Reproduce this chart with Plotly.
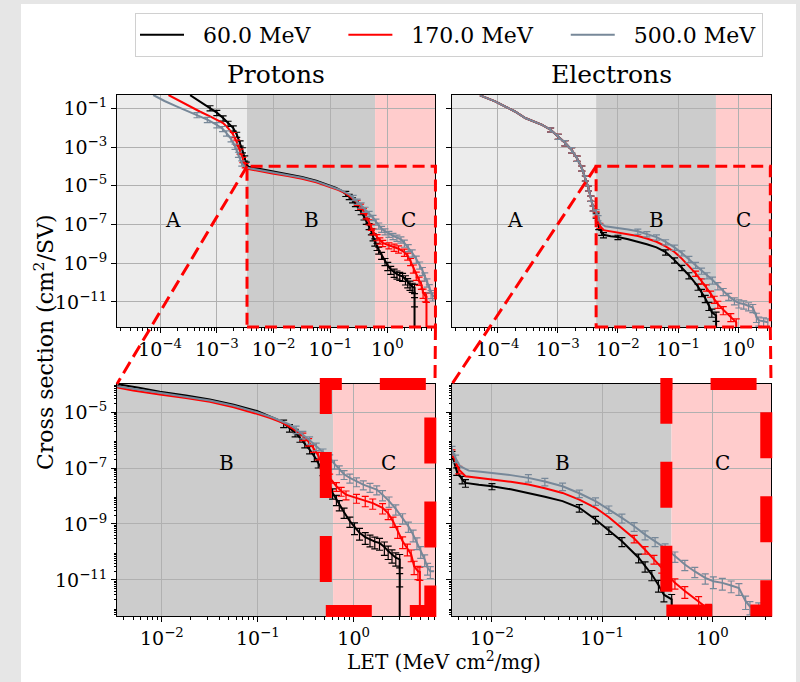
import math
import plotly.graph_objects as go

FONT = "DejaVu Serif"
W, H = 800, 682

energies = ["60.0 MeV", "170.0 MeV", "500.0 MeV"]
colors = ["black", "red", "#778899"]

# ---------------- Protons ----------------
p60_let = [3.39e-4, 5.0e-4, 7.6e-4, 1.0e-3, 1.29e-3, 1.58e-3, 1.95e-3, 2.24e-3, 2.57e-3, 2.82e-3,
           3.1e-3, 3.3e-3, 3.6e-3, 4.5e-3, 5.75e-3, 9.5e-3, 1.78e-2, 3.16e-2, 5.62e-2, 9.8e-2,
           0.126, 0.158, 0.186, 0.214, 0.245, 0.275, 0.309, 0.347, 0.389, 0.427,
           0.479, 0.525, 0.562, 0.603, 0.661, 0.708, 0.794, 0.912, 1.02, 1.15,
           1.32, 1.48, 1.66, 1.86, 2.09, 2.29, 2.51, 2.75, 3.02, 3.02, 3.02]
p60_xs = [0.48, 0.22, 0.105, 6.0e-2, 3.16e-2, 1.66e-2, 9.5e-3, 4.5e-3, 1.62e-3, 7.1e-4,
          2.7e-4, 1.3e-4, 9.8e-5, 8.7e-5, 7.5e-5, 5.4e-5, 3.98e-5, 2.82e-5, 1.86e-5, 1.10e-5,
          7.9e-6, 5.5e-6, 4.0e-6, 2.75e-6, 1.86e-6, 1.20e-6, 7.6e-7, 4.57e-7, 2.63e-7, 1.55e-7,
          8.3e-8, 4.47e-8, 2.4e-8, 1.29e-8, 7.6e-9, 4.9e-9, 2.63e-9, 1.26e-9, 7.6e-10, 4.8e-10,
          3.4e-10, 2.75e-10, 2.34e-10, 2.09e-10, 1.51e-10, 1.07e-10, 7.9e-11, 6.2e-11, 5.4e-11, 1.12e-11, 1e-15]
p60_err = [0, 0, 0.3, 0.3, 0.3, 0.3, 0.3, 0.3, 0.3, 0.3, 0.3, 0.3, 0,
           0, 0, 0, 0, 0, 0, 0, 0, 0,
           0.3, 0.3, 0.3, 0.3, 0.3, 0.3, 0.35, 0.35,
           0.35, 0.35, 0.4, 0.4, 0.4, 0.4, 0.4, 0.4, 0.45, 0.45,
           0.45, 0.45, 0.45, 0.45, 0.5, 0.5, 0.5, 0.5, 0.5, 0.5, 0]

p170_let = [1.41e-4, 2.19e-4, 3.39e-4, 5.0e-4, 7.6e-4, 1.0e-3, 1.29e-3, 1.58e-3, 1.95e-3, 2.24e-3,
            2.57e-3, 2.88e-3, 3.16e-3, 3.47e-3, 5.0e-3, 9.5e-3, 1.78e-2, 3.16e-2, 5.62e-2, 9.8e-2,
            0.135, 0.182, 0.234, 0.295, 0.339, 0.380, 0.427, 0.479, 0.525, 0.562,
            0.661, 0.741, 0.832, 1.07, 1.32, 1.58, 2.0, 2.29, 2.57, 2.88,
            3.24, 3.63, 3.98, 4.27, 4.68, 4.9, 4.9]
p170_xs = [0.49, 0.24, 0.126, 6.9e-2, 3.9e-2, 2.63e-2, 1.74e-2, 9.5e-3, 4.37e-3, 1.78e-3,
           6.0e-4, 2.24e-4, 1.12e-4, 7.6e-5, 6.0e-5, 4.27e-5, 3.24e-5, 2.34e-5, 1.51e-5, 8.7e-6,
           6.2e-6, 4.17e-6, 2.51e-6, 1.38e-6, 8.7e-7, 5.25e-7, 2.82e-7, 1.35e-7, 7.6e-8, 4.47e-8,
           2.24e-8, 1.51e-8, 1.12e-8, 8.5e-9, 6.9e-9, 5.6e-9, 3.8e-9, 2.4e-9, 1.26e-9, 5.6e-10,
           2.4e-10, 1.32e-10, 8.1e-11, 3.09e-11, 2.04e-11, 1.91e-11, 1e-15]
p170_err = [0, 0, 0, 0, 0, 0, 0, 0, 0.3, 0.3, 0.3, 0.3, 0.25, 0,
            0, 0, 0, 0, 0, 0,
            0, 0, 0, 0.3, 0.3, 0.3, 0.3, 0.3, 0.35, 0.35,
            0.35, 0.35, 0.35, 0.35, 0.4, 0.4, 0.4, 0.4, 0.4, 0.45,
            0.45, 0.45, 0.45, 0.5, 0.5, 0.5, 0]

p500_let = [7.6e-5, 1.20e-4, 1.95e-4, 2.95e-4, 4.47e-4, 6.8e-4, 1.0e-3, 1.26e-3, 1.48e-3, 1.78e-3,
            2.09e-3, 2.40e-3, 2.75e-3, 3.16e-3, 3.39e-3, 5.62e-3, 9.5e-3, 1.78e-2, 3.16e-2, 5.62e-2,
            9.8e-2, 0.145, 0.214, 0.251, 0.295, 0.347, 0.407, 0.479, 0.562, 0.631,
            0.708, 0.794, 0.912, 1.07, 1.26, 1.48, 1.74, 2.0, 2.34, 2.75,
            3.24, 3.72, 4.17, 4.57, 5.0, 5.5, 5.9, 6.3, 6.9]
p500_xs = [0.49, 0.24, 0.126, 7.6e-2, 4.68e-2, 2.63e-2, 1.41e-2, 8.9e-3, 5.25e-3, 2.63e-3,
           1.10e-3, 4.17e-4, 1.48e-4, 9.5e-5, 8.5e-5, 6.5e-5, 4.9e-5, 3.7e-5, 2.63e-5, 1.70e-5,
           1.0e-5, 6.3e-6, 3.63e-6, 2.45e-6, 1.58e-6, 1.0e-6, 6.0e-7, 3.7e-7, 2.29e-7, 1.41e-7,
           8.9e-8, 6.0e-8, 4.47e-8, 3.31e-8, 2.57e-8, 2.09e-8, 1.70e-8, 1.12e-8, 6.6e-9, 3.47e-9,
           1.66e-9, 8.3e-10, 4.17e-10, 2.19e-10, 1.07e-10, 5.4e-11, 2.7e-11, 2.04e-11, 2.04e-11]
p500_err = [0, 0, 0, 0, 0.3, 0.3, 0.3, 0.3, 0.3, 0.3, 0.3, 0.3, 0.3, 0, 0,
            0, 0, 0, 0, 0, 0,
            0, 0, 0.3, 0.3, 0.3, 0.3, 0.3, 0.3, 0.35,
            0.35, 0.35, 0.35, 0.35, 0.35, 0.35, 0.35, 0.4, 0.4, 0.4,
            0.4, 0.4, 0.45, 0.45, 0.45, 0.45, 0.45, 0.45, 0]

# ---------------- Electrons ----------------
# low-LET part (region A), common to the three energies
eA_let = [5.1e-5, 6.8e-5, 9.1e-5, 1.32e-4, 1.95e-4, 2.88e-4, 3.98e-4, 5.5e-4, 7.6e-4, 1.02e-3,
          1.32e-3, 1.70e-3, 2.09e-3, 2.51e-3, 2.88e-3, 3.24e-3, 3.55e-3, 3.89e-3]
eA_xs = [0.47, 0.33, 0.229, 0.126, 6.9e-2, 3.16e-2, 2.09e-2, 1.41e-2, 7.9e-3, 3.55e-3,
         1.66e-3, 7.2e-4, 2.63e-4, 8.1e-5, 2.51e-5, 7.6e-6, 2.24e-6, 7.1e-7]
eA_err = [0, 0, 0, 0, 0, 0, 0, 0, 0.25, 0.3, 0.3, 0.3, 0.3, 0.3, 0.3, 0.3, 0.3, 0.3]

e60_let_B = [4.34e-3, 4.79e-3, 5.37e-3, 5.75e-3, 7.6e-3, 1.0e-2, 1.48e-2, 2.14e-2, 3.02e-2, 4.37e-2,
             6.2e-2, 8.7e-2, 0.115, 0.151, 0.214, 0.245, 0.282, 0.324, 0.363, 0.427, 0.427]
e60_xs_B = [3.02e-7, 7.8e-8, 3.9e-8, 2.95e-8, 2.51e-8, 2.24e-8, 1.74e-8, 1.29e-8, 9.5e-9, 6.6e-9,
            3.8e-9, 1.45e-9, 6.0e-10, 2.4e-10, 6.2e-11, 3.16e-11, 1.55e-11, 6.6e-12, 2.95e-12, 2.0e-12, 1e-15]
e60_err_B = [0.3, 0.3, 0.3, 0.3, 0, 0.25, 0, 0, 0, 0,
             0.3, 0.3, 0.3, 0.35, 0.35, 0.4, 0.4, 0.45, 0.45, 0.5, 0]

e170_let_B = [4.34e-3, 5.0e-3, 5.75e-3, 7.6e-3, 1.0e-2, 1.48e-2, 2.14e-2, 3.02e-2, 4.37e-2, 6.2e-2,
              8.7e-2, 0.115, 0.151, 0.195, 0.245, 0.295, 0.347, 0.398, 0.457, 0.562, 0.75, 0.923, 0.923]
e170_xs_B = [3.47e-7, 8.9e-8, 5.1e-8, 4.37e-8, 3.9e-8, 3.24e-8, 2.57e-8, 1.91e-8, 1.29e-8, 7.4e-9,
             3.8e-9, 1.74e-9, 7.2e-10, 3.02e-10, 1.20e-10, 5.6e-11, 2.7e-11, 1.41e-11, 7.8e-12, 3.98e-12,
             1.74e-12, 8.9e-13, 1e-15]
e170_err_B = [0.3, 0.3, 0, 0, 0, 0, 0, 0, 0, 0,
              0, 0, 0, 0.3, 0.3, 0.35, 0.35, 0.4, 0.4, 0.45, 0.45, 0.5, 0]

e500_let_B = [4.34e-3, 4.68e-3, 5.13e-3, 6.17e-3, 7.9e-3, 1.0e-2, 1.48e-2, 2.14e-2, 3.02e-2, 4.37e-2,
              6.2e-2, 8.7e-2, 0.115, 0.151, 0.195, 0.245, 0.302, 0.372, 0.457, 0.562,
              0.692, 0.861, 1.02, 1.23, 1.48, 1.74, 2.0, 2.19, 2.63, 3.09]
e500_xs_B = [4.57e-7, 2.24e-7, 1.17e-7, 8.1e-8, 7.4e-8, 6.8e-8, 5.6e-8, 4.47e-8, 3.31e-8, 2.24e-8,
             1.26e-8, 6.6e-9, 3.39e-9, 1.66e-9, 8.3e-10, 4.17e-10, 2.4e-10, 1.38e-10, 7.1e-11, 3.55e-11,
             2.0e-11, 1.17e-11, 8.9e-12, 7.8e-12, 6.3e-12, 5.1e-12, 1.74e-12, 1.12e-12, 1.0e-12, 8.9e-13]
e500_err_B = [0.3, 0.3, 0, 0, 0, 0, 0, 0.3, 0.3, 0.3,
              0.3, 0.3, 0.3, 0.35, 0.35, 0.35, 0.35, 0.4, 0.4, 0.4,
              0.4, 0.4, 0.45, 0.45, 0.45, 0.45, 0.5, 0.5, 0.5, 0.5]

# region limits (LET), zoom windows and axis limits
region_AB = {"p": 3.4e-3, "e": 4.34e-3}
region_BC = {"p": 0.61, "e": 0.425}
top_let_lim = {"p": [1.75e-5, 6.92], "e": [1.75e-5, 3.49]}
top_xs_lim = [5.1e-13, 0.49]
zoom_let = {"p": [3.4e-3, 7.05], "e": [4.34e-3, 3.40]}
zoom_xs = [5.1e-13, 1.02e-4]
c_box = {"p": [0.512, 6.3, 7.7e-13, 1.02e-4], "e": [0.382, 3.08, 8.1e-13, 1.02e-4]}
label_A = {"p": 1.7e-4, "e": 1.95e-4}
label_B = {"p": 0.047, "e": 0.044}
label_C = {"p": 2.33, "e": 1.23}
label_y_top = 1.8e-7
label_y_bot = 1.55e-7

# ---------------- geometry (pixels) ----------------
COLS = {"p": (117, 435), "e": (452, 771)}
ROW_TOP = (95, 327)
ROW_BOT = (384, 616)
NB = "\u00a0"
legend_names = [NB * 2 + energies[0] + NB * 4, NB * 2 + energies[1] + NB * 4, NB * 2 + energies[2]]


def lg(v):
    return math.log10(v)


def xdom(c):
    return [c[0] / W, c[1] / W]


def ydom(r):
    return [1 - r[1] / H, 1 - r[0] / H]


def sup(e):
    return "10<sup>" + ("\u2212" if e < 0 else "") + str(abs(e)) + "</sup>"


axes = {
    ("p", "top"): ("x", "y", xdom(COLS["p"]), [lg(v) for v in top_let_lim["p"]], ydom(ROW_TOP), [lg(v) for v in top_xs_lim]),
    ("e", "top"): ("x2", "y2", xdom(COLS["e"]), [lg(v) for v in top_let_lim["e"]], ydom(ROW_TOP), [lg(v) for v in top_xs_lim]),
    ("p", "bot"): ("x3", "y3", xdom(COLS["p"]), [lg(v) for v in zoom_let["p"]], ydom(ROW_BOT), [lg(v) for v in zoom_xs]),
    ("e", "bot"): ("x4", "y4", xdom(COLS["e"]), [lg(v) for v in zoom_let["e"]], ydom(ROW_BOT), [lg(v) for v in zoom_xs]),
}


def frac(v, rng):
    return (lg(v) - rng[0]) / (rng[1] - rng[0])


def to_paper(v, dom, rng):
    return dom[0] + frac(v, rng) * (dom[1] - dom[0])


minor_vals = [m * 10.0 ** e for e in range(-13, 1) for m in range(2, 10)]


def make_axis(dom, rng, exps, labels, anchor, minor):
    d = dict(type="log", domain=dom, range=rng, anchor=anchor, autorange=False,
             tickmode="array", tickvals=[10.0 ** e for e in exps],
             ticktext=[sup(e) for e in exps], showticklabels=labels,
             ticks="outside", ticklen=5, tickwidth=1, tickcolor="black",
             showline=True, linecolor="black", linewidth=1, mirror=True,
             showgrid=True, gridcolor="#b0b0b0", gridwidth=1, zeroline=False,
             tickfont=dict(family=FONT, size=19, color="black"))
    if minor:
        d["minor"] = dict(tickmode="array", tickvals=minor_vals, ticks="outside",
                          ticklen=2.5, tickwidth=0.8, tickcolor="black", showgrid=False)
    return d


fig = go.Figure()

series = {
    "p": [(p60_let, p60_xs, p60_err), (p170_let, p170_xs, p170_err), (p500_let, p500_xs, p500_err)],
    "e": [(eA_let + e60_let_B, eA_xs + e60_xs_B, eA_err + e60_err_B),
          (eA_let + e170_let_B, eA_xs + e170_xs_B, eA_err + e170_err_B),
          (eA_let + e500_let_B, eA_xs + e500_xs_B, eA_err + e500_err_B)],
}

for (part, row), (xa, ya, xd, xr, yd, yr) in axes.items():
    for i, (lets, xs, errs) in enumerate(series[part]):
        c = colors[i]
        fig.add_trace(go.Scatter(
            x=lets, y=xs, mode="lines", line=dict(color=c, width=2),
            name=legend_names[i], legendgroup=energies[i],
            showlegend=(part == "p" and row == "top"),
            xaxis=xa, yaxis=ya, hoverinfo="skip"))
        ex = [l for l, r in zip(lets, errs) if r > 0]
        ey = [y for y, r in zip(xs, errs) if r > 0]
        ee = [y * r for y, r in zip(xs, errs) if r > 0]
        fig.add_trace(go.Scatter(
            x=ex, y=ey, mode="markers", marker=dict(color=c, size=1),
            error_y=dict(type="data", symmetric=True, array=ee, width=3.5, thickness=1.2, color=c),
            showlegend=False, legendgroup=energies[i], xaxis=xa, yaxis=ya, hoverinfo="skip"))

layout_axes = {}
shapes = []
annotations = []

# background panel
shapes.append(dict(type="rect", xref="paper", yref="paper", x0=21 / W, x1=796 / W, y0=0, y1=1 - 4 / H,
                   fillcolor="white", line=dict(width=0), layer="below"))

for (part, row), (xa, ya, xd, xr, yd, yr) in axes.items():
    xkey = "xaxis" + xa[1:]
    ykey = "yaxis" + ya[1:]
    if row == "top":
        xexps = [-4, -3, -2, -1, 0]
        yexps = [-1, -3, -5, -7, -9, -11]
        yminor = False
    else:
        xexps = [-2, -1, 0]
        yexps = [-5, -7, -9, -11]
        yminor = True
    layout_axes[xkey] = make_axis(xd, xr, xexps, True, ya, True)
    layout_axes[ykey] = make_axis(yd, yr, yexps, part == "p", xa, yminor)

    # shaded regions
    fab = max(0.0, min(1.0, frac(region_AB[part], xr)))
    fbc = frac(region_BC[part], xr)
    for f0, f1, col in [(0.0, fab, "#ececec"), (fab, fbc, "#cccccc"), (fbc, 1.0, "#ffcccc")]:
        if f1 - f0 > 1e-6:
            shapes.append(dict(type="rect", xref=xa + " domain", yref=ya + " domain",
                               x0=f0, x1=f1, y0=0, y1=1, fillcolor=col,
                               line=dict(width=0), layer="below"))
    # region letters
    ly = label_y_top if row == "top" else label_y_bot
    letters = [("A", label_A[part]), ("B", label_B[part]), ("C", label_C[part])]
    for txt, lx in letters:
        fx = frac(lx, xr)
        if 0 <= fx <= 1:
            annotations.append(dict(text=txt, xref=xa + " domain", yref=ya + " domain",
                                    x=fx, y=frac(ly, yr), showarrow=False,
                                    xanchor="center", yanchor="middle",
                                    font=dict(family=FONT, size=20, color="black")))

# zoom indicators
for part in ["p", "e"]:
    _, _, xd, xr, yd, yr = axes[(part, "top")]
    _, _, bxd, bxr, byd, byr = axes[(part, "bot")]
    rx0 = to_paper(zoom_let[part][0], xd, xr)
    rx1 = to_paper(zoom_let[part][1], xd, xr)
    ry0 = to_paper(zoom_xs[0], yd, yr)
    ry1 = to_paper(zoom_xs[1], yd, yr)
    thin = dict(color="red", width=3, dash="12px,6px")
    shapes.append(dict(type="rect", xref="paper", yref="paper", x0=rx0, x1=rx1, y0=ry0, y1=ry1,
                       line=thin, layer="above"))
    shapes.append(dict(type="line", xref="paper", yref="paper", x0=rx0, y0=ry1, x1=bxd[0], y1=byd[1],
                       line=dict(color="red", width=3, dash="13px,6px"), layer="above"))
    shapes.append(dict(type="line", xref="paper", yref="paper", x0=rx1, y0=ry0, x1=bxd[1], y1=byd[1],
                       line=dict(color="red", width=3, dash="13px,6px"), layer="above"))
    cb = c_box[part]
    shapes.append(dict(type="rect", xref="paper", yref="paper",
                       x0=to_paper(cb[0], bxd, bxr), x1=to_paper(cb[1], bxd, bxr),
                       y0=to_paper(cb[2], byd, byr), y1=to_paper(cb[3], byd, byr),
                       line=dict(color="red", width=12, dash="46px,38px"), layer="above"))

# titles and axis labels
annotations.append(dict(text="Protons", xref="paper", yref="paper", x=sum(COLS["p"]) / 2 / W, y=1 - 74 / H,
                        showarrow=False, xanchor="center", yanchor="middle",
                        font=dict(family=FONT, size=25, color="black")))
annotations.append(dict(text="Electrons", xref="paper", yref="paper", x=sum(COLS["e"]) / 2 / W, y=1 - 74 / H,
                        showarrow=False, xanchor="center", yanchor="middle",
                        font=dict(family=FONT, size=25, color="black")))
annotations.append(dict(text="LET (MeV cm<sup>2</sup>/mg)", xref="paper", yref="paper", x=444 / W, y=1 - 661 / H,
                        showarrow=False, xanchor="center", yanchor="middle",
                        font=dict(family=FONT, size=20, color="black")))
annotations.append(dict(text="Cross section (cm<sup>2</sup>/SV)", xref="paper", yref="paper", x=44 / W, y=1 - 342 / H,
                        showarrow=False, xanchor="center", yanchor="middle", textangle=-90,
                        font=dict(family=FONT, size=22, color="black")))

fig.update_layout(
    width=W, height=H, autosize=False,
    margin=dict(l=0, r=0, t=0, b=0),
    paper_bgcolor="#e6e6e6", plot_bgcolor="white",
    font=dict(family=FONT, color="black"),
    showlegend=True,
    legend=dict(orientation="h", x=135 / W, xanchor="left", y=1 - 13 / H, yanchor="top",
                bgcolor="white", bordercolor="#d0d0d0", borderwidth=1,
                font=dict(family=FONT, size=22, color="black"), itemwidth=44),
    shapes=shapes, annotations=annotations,
    **layout_axes,
)

fig.write_html("out.html")
